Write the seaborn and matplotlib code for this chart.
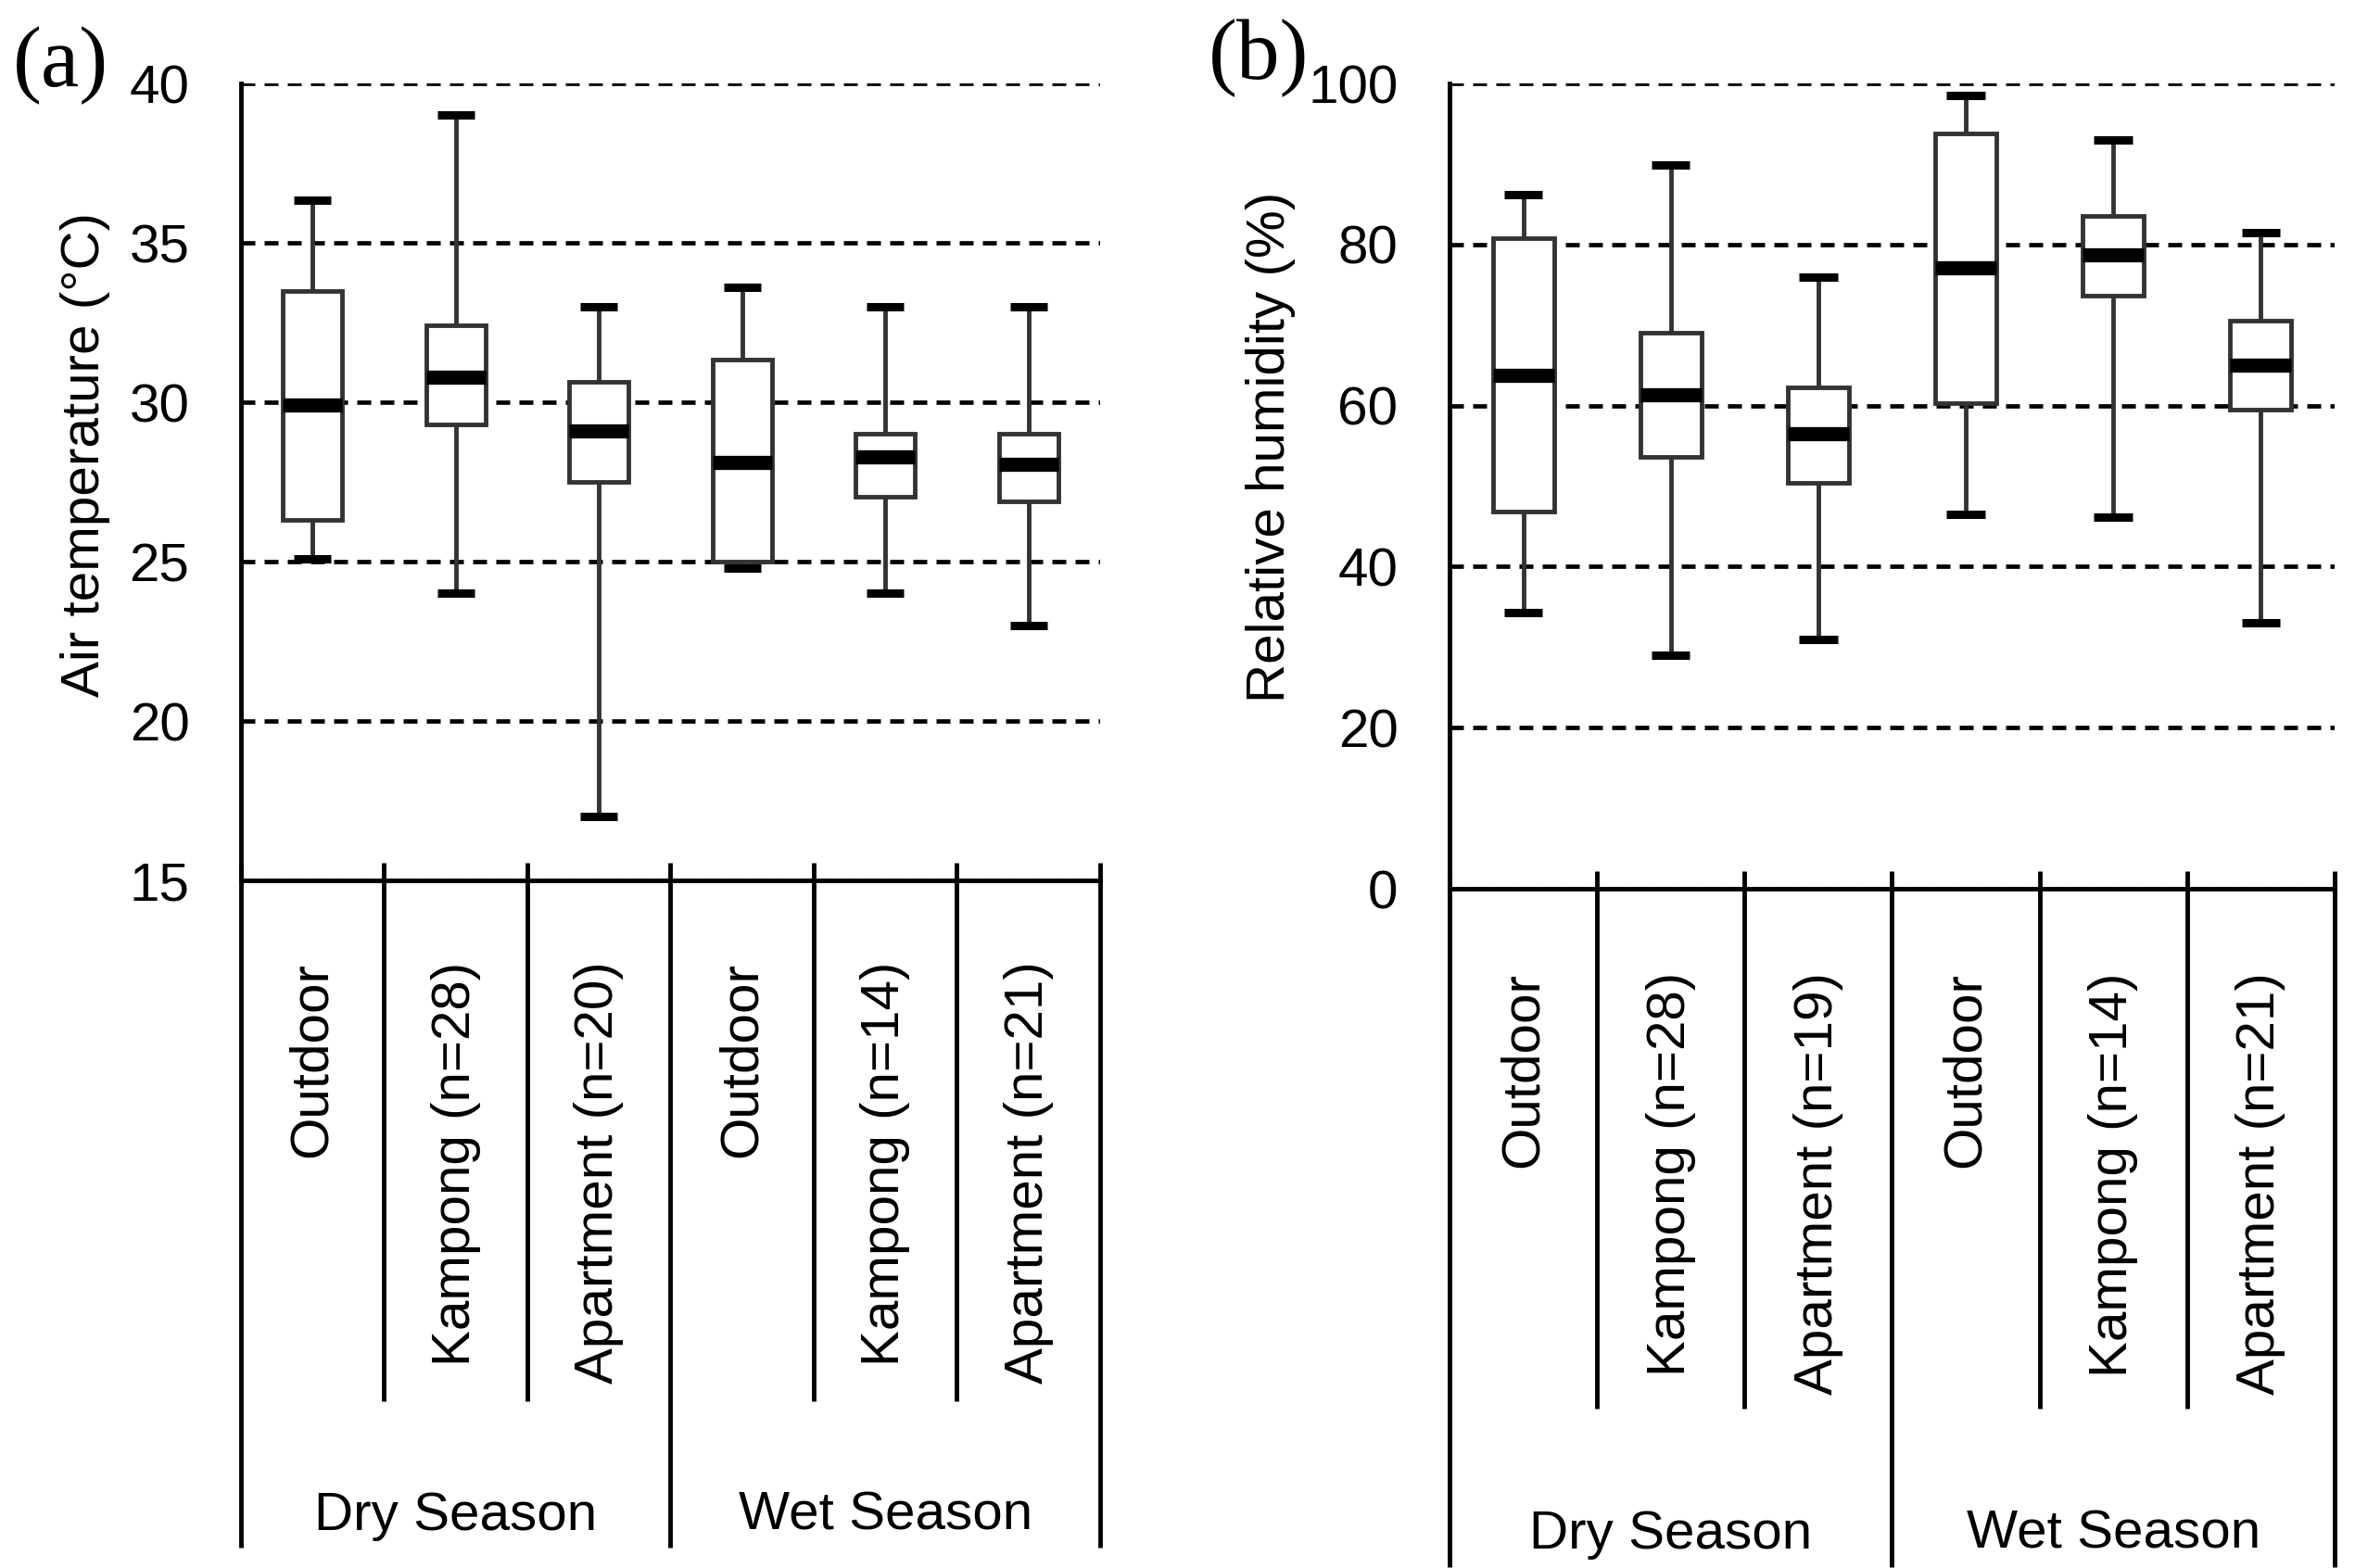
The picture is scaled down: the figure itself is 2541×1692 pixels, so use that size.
import numpy as np
import pandas as pd
import matplotlib
matplotlib.use("Agg")
import matplotlib.pyplot as plt
import seaborn as sns

# categories
seasons = ["Dry Season", "Dry Season", "Dry Season", "Wet Season", "Wet Season", "Wet Season"]
temp_labels = ["Outdoor", "Kampong (n=28)", "Apartment (n=20)",
               "Outdoor", "Kampong (n=14)", "Apartment (n=21)"]
rh_labels = ["Outdoor", "Kampong (n=28)", "Apartment (n=19)",
             "Outdoor", "Kampong (n=14)", "Apartment (n=21)"]

# (a) air temperature
temp_min = [25.1, 24.0, 17.0, 24.8, 24.0, 23.0]
temp_q1 = [26.3, 29.3, 27.5, 25.0, 27.05, 26.9]
temp_med = [29.9, 30.8, 29.1, 28.1, 28.3, 28.05]
temp_q3 = [33.5, 32.4, 30.65, 31.35, 29.0, 29.0]
temp_max = [36.35, 39.0, 33.0, 33.6, 33.0, 33.0]

# (b) relative humidity
rh_min = [34.3, 29.0, 31.0, 46.5, 46.2, 33.0]
rh_q1 = [46.8, 53.6, 50.4, 60.3, 73.7, 59.5]
rh_med = [63.8, 61.3, 56.5, 77.1, 78.7, 65.0]
rh_q3 = [80.8, 69.0, 62.3, 93.8, 83.6, 70.6]
rh_max = [86.2, 89.9, 76.0, 98.5, 93.0, 81.5]

sns.set_style("white", rc={"axes.edgecolor": "black", "text.color": "black",
                           "axes.labelcolor": "black", "xtick.color": "black",
                           "ytick.color": "black"})
plt.rcParams['font.family'] = ['Liberation Sans', 'DejaVu Sans']
plt.rcParams['font.size'] = 42
plt.rcParams['lines.scale_dashes'] = False

LINE = "#333333"
BOX_W = 0.415
CAP_W = 0.26


def draw_panel(ax, labels, mins, q1s, meds, q3s, maxs, ylim, yticks, ylabel,
               label_x, label_y, label_pad, inner_drop, outer_drop, season_y):
    keys = [f"{s}: {l}" for s, l in zip(seasons, labels)]
    # five numbers per group -> boxplot stats come out exactly as read
    rows = []
    for k, a, b, c, d, e in zip(keys, mins, q1s, meds, q3s, maxs):
        for v in (a, b, c, d, e):
            rows.append({"group": k, "value": v})
    df = pd.DataFrame(rows)

    sns.boxplot(data=df, x="group", y="value", order=keys, ax=ax,
                width=BOX_W, whis=np.inf, color="white", saturation=1,
                linecolor=LINE, linewidth=3.5, showfliers=False,
                medianprops=dict(color="black", linewidth=11),
                capprops=dict(color="black", linewidth=6.5, solid_capstyle="butt"),
                whiskerprops=dict(color=LINE, linewidth=3.5))

    for cont in ax.containers:
        for cap in getattr(cont, "caps", []):
            xs = cap.get_xdata()
            c = np.mean(xs)
            cap.set_xdata([c - CAP_W / 2, c + CAP_W / 2])

    ax.set_ylim(*ylim)
    ax.set_yticks(yticks)
    ax.yaxis.grid(True, color="black", linewidth=3.4, linestyle=(0, (10.8, 7.2)))
    ax.xaxis.grid(False)
    ax.set_axisbelow(True)

    ax.set_xticks(range(len(keys)))
    ax.set_xticklabels(labels, rotation=90)
    ax.tick_params(axis="x", length=0, pad=label_pad, labelsize=42)
    ax.tick_params(axis="y", length=0, pad=40, labelsize=42)
    ax.set_xlabel("")
    ax.set_ylabel(ylabel, fontsize=42)
    ax.yaxis.set_label_coords(label_x, label_y)

    ax.spines["top"].set_visible(False)
    ax.spines["right"].set_visible(False)
    for s in ("left", "bottom"):
        ax.spines[s].set_linewidth(3.5)
        ax.spines[s].set_color("black")

    # separators under the axis
    n = len(keys)
    trans = ax.get_xaxis_transform()
    for i in range(n + 1):
        x = i - 0.5
        outer = i == 0 or i == n or seasons[i - 1] != seasons[min(i, n - 1)]
        ax.vlines(x, -outer_drop if outer else -inner_drop, 0.022,
                  color="black", linewidth=3.5, transform=trans, clip_on=False)

    for s in dict.fromkeys(seasons):
        pos = [i for i, ss in enumerate(seasons) if ss == s]
        ax.text(np.mean(pos), -season_y, s, transform=trans,
                ha="center", va="center", fontsize=42)
    ax.set_xlim(-0.5, n - 0.5)


fig = plt.figure(figsize=(25.41, 16.92), dpi=100)
ax1 = fig.add_axes([0.1023, 0.4385, 0.3648, 0.5083])
ax2 = fig.add_axes([0.6155, 0.4332, 0.3758, 0.5136])

draw_panel(ax1, temp_labels, temp_min, temp_q1, temp_med, temp_q3, temp_max,
           (15, 40), [15, 20, 25, 30, 35, 40], "Air temperature (°C)",
           -0.152, 0.534, 63, 0.653, 0.837, 0.797)
draw_panel(ax2, rh_labels, rh_min, rh_q1, rh_med, rh_q3, rh_max,
           (0, 100), [0, 20, 40, 60, 80, 100], "Relative humidity (%)",
           -0.174, 0.548, 65, 0.646, 0.842, 0.802)

fig.text(0.0055, 0.945, "(a)", family=["Liberation Serif", "DejaVu Serif"],
         fontsize=67, va="baseline", ha="left")
fig.text(0.5130, 0.9498, "(b)", family=["Liberation Serif", "DejaVu Serif"],
         fontsize=67, va="baseline", ha="left")

fig.savefig("out.png", dpi=100)
